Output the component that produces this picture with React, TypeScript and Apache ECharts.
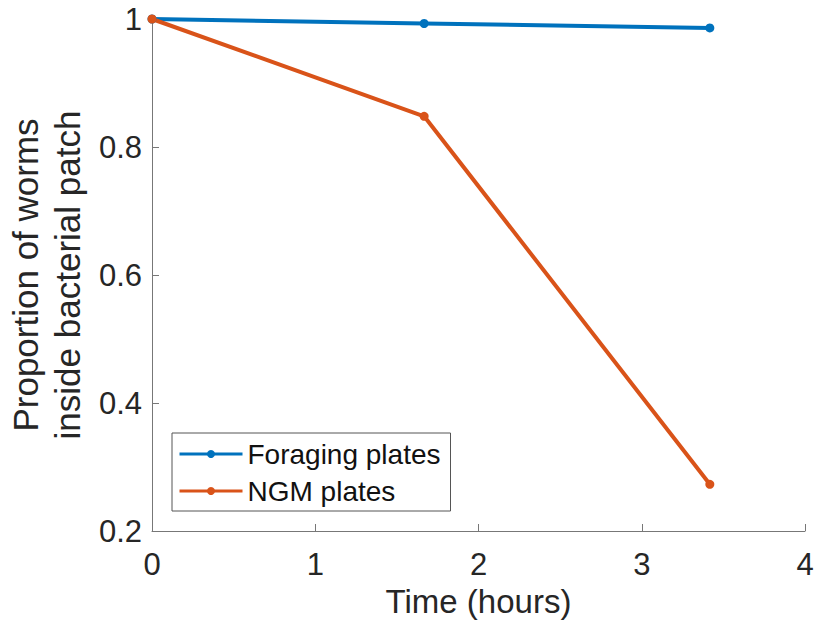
import React, { useEffect, useRef } from "react";
import * as echarts from "echarts";

const timeHours = [0, 1.667, 3.417];
const foragingPlates = [1.0, 0.993, 0.986];
const ngmPlates = [1.0, 0.848, 0.273];
const seriesNames = ["Foraging plates", "NGM plates"];
const xTicks = { min: 0, max: 4, interval: 1 };
const yTicks = { min: 0.2, max: 1, interval: 0.2 };
const xAxisTitle = "Time (hours)";
const yAxisTitle = "Proportion of worms\ninside bacterial patch";

const FONT = "'Liberation Sans', Arial, Helvetica, sans-serif";
const AXIS_COLOR = "#777777";
const TEXT_COLOR = "#262626";

export default function App() {
  const ref = useRef<HTMLDivElement>(null);
  useEffect(() => {
    if (!ref.current) return;
    const chart = echarts.init(ref.current, undefined, { renderer: "svg" });
    const mk = (vals: number[]) => timeHours.map((t, i) => [t, vals[i]]);
    chart.setOption({
      animation: false,
      backgroundColor: "#ffffff",
      textStyle: { fontFamily: FONT },
      grid: { left: 152, right: 11, top: 19, bottom: 95, containLabel: false, outerBoundsMode: "none" },
      legend: {
        orient: "vertical",
        left: 172,
        top: 433,
        itemWidth: 63,
        itemHeight: 10,
        itemGap: 7,
        padding: [6, 10, 5, 6],
        borderColor: "#555555",
        borderWidth: 1,
        backgroundColor: "#ffffff",
        lineStyle: { width: 3 },
        textStyle: { fontFamily: FONT, fontSize: 28, lineHeight: 30, color: "#111111" },
        data: seriesNames,
      },
      xAxis: {
        type: "value",
        min: xTicks.min,
        max: xTicks.max,
        interval: xTicks.interval,
        name: xAxisTitle,
        nameLocation: "middle",
        nameGap: 44,
        nameTextStyle: { fontFamily: FONT, fontSize: 33, color: TEXT_COLOR },
        axisLine: { show: true, lineStyle: { color: AXIS_COLOR, width: 1 } },
        axisTick: { show: true, inside: true, length: 7, lineStyle: { color: AXIS_COLOR } },
        axisLabel: { fontFamily: FONT, fontSize: 31, color: TEXT_COLOR, margin: 18 },
        splitLine: { show: false },
      },
      yAxis: {
        type: "value",
        min: yTicks.min,
        max: yTicks.max,
        interval: yTicks.interval,
        name: yAxisTitle,
        nameLocation: "middle",
        nameGap: 63,
        nameTextStyle: { fontFamily: FONT, fontSize: 35, lineHeight: 42, color: TEXT_COLOR },
        axisLine: { show: true, lineStyle: { color: AXIS_COLOR, width: 1 } },
        axisTick: { show: true, inside: true, length: 7, lineStyle: { color: AXIS_COLOR } },
        axisLabel: {
          fontFamily: FONT,
          fontSize: 31,
          color: TEXT_COLOR,
          margin: 10,
          formatter: (v: number) => String(Number(v.toFixed(2))),
        },
        splitLine: { show: false },
      },
      series: [
        {
          name: seriesNames[0],
          type: "line",
          data: mk(foragingPlates),
          symbol: "circle",
          symbolSize: 9,
          color: "#0072BD",
          lineStyle: { width: 4, color: "#0072BD" },
          itemStyle: { color: "#0072BD" },
        },
        {
          name: seriesNames[1],
          type: "line",
          data: mk(ngmPlates),
          symbol: "circle",
          symbolSize: 9,
          color: "#D95319",
          lineStyle: { width: 4, color: "#D95319" },
          itemStyle: { color: "#D95319" },
        },
      ],
    });
    return () => chart.dispose();
  }, []);
  return (
    <div
      ref={ref}
      style={{ position: "fixed", left: 0, top: 0, width: 816, height: 626, background: "#fff" }}
    />
  );
}
